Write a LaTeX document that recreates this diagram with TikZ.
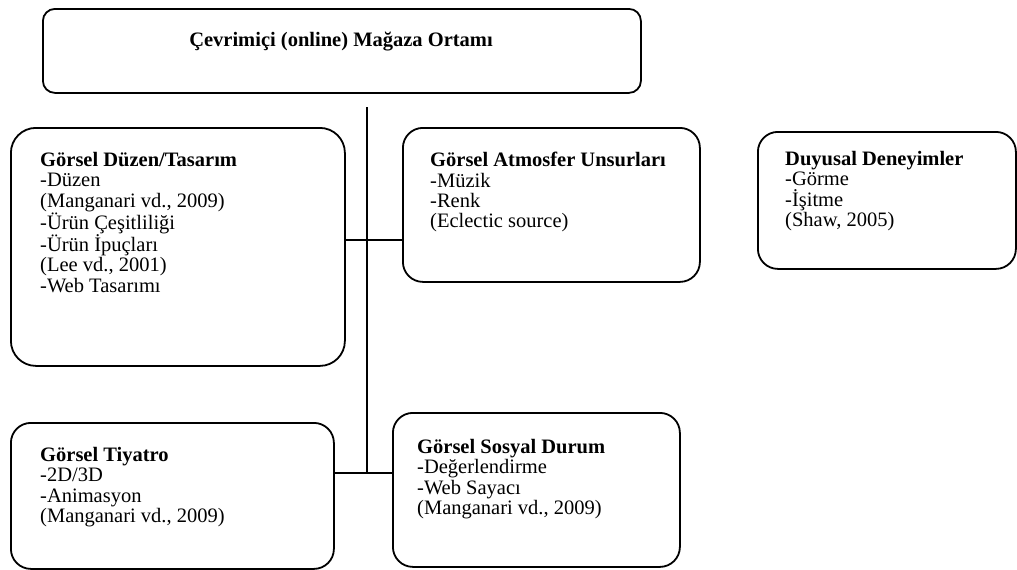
\documentclass[tikz,border=0pt]{standalone}
\usepackage{fontspec}
\setmainfont{Liberation Serif}
\begin{document}
\begin{tikzpicture}[x=1pt,y=-1pt,
  box/.style={draw, line width=1.8pt, rounded corners=#1, anchor=north west,
    inner sep=0pt, fill=white},
  box/.default=20pt,
  txt/.style={anchor=north west, inner sep=0pt, align=left,
    font=\fontsize{20.5}{20.4}\selectfont},
  link/.style={draw, line width=1.4pt}]
  \useasboundingbox (0,0) rectangle (1017,570);

  % main box
  \node[box=12pt, minimum width=598pt, minimum height=84pt] (top) at (42,8) {};
  \node[anchor=base, inner sep=0pt, font=\fontsize{20.5}{20.4}\selectfont\bfseries]
    (topT) at (341,46) {Çevrimiçi (online) Mağaza Ortamı};

  % category boxes
  \node[box=25pt, minimum width=334pt, minimum height=238pt] (A) at (10,127) {};
  \node[txt] (AT) at (40,152) {\textbf{Görsel Düzen/Tasarım}\\-Düzen\\(Manganari vd., 2009)\\-Ürün Çeşitliliği\\-Ürün İpuçları\\(Lee vd., 2001)\\-Web Tasarımı};

  \node[box, minimum width=297pt, minimum height=154pt] (B) at (402,127) {};
  \node[txt] (BT) at (430,152) {\textbf{Görsel Atmosfer Unsurları}\\-Müzik\\-Renk\\(Eclectic source)};

  \node[box, minimum width=258pt, minimum height=137pt] (C) at (757,131) {};
  \node[txt] (CT) at (785,151) {\textbf{Duyusal Deneyimler}\\-Görme\\-İşitme\\(Shaw, 2005)};

  \node[box, minimum width=323pt, minimum height=146pt] (D) at (10,422) {};
  \node[txt] (DT) at (40,447) {\textbf{Görsel Tiyatro}\\-2D/3D\\-Animasyon\\(Manganari vd., 2009)};

  \node[box, minimum width=287pt, minimum height=154pt] (E) at (392,412) {};
  \node[txt] (ET) at (417,439) {\textbf{Görsel Sosyal Durum}\\-Değerlendirme\\-Web Sayacı\\(Manganari vd., 2009)};

  % connectors
  \coordinate (vtop) at (367,107);
  \coordinate (j1) at (367,240);
  \coordinate (vbot) at (367,473);
  \draw[link] (vtop) -- (vbot);
  \draw[link] (j1 -| A.east) -- (j1 -| B.west);
  \draw[link] (vbot -| D.east) -- (vbot -| E.west);
\end{tikzpicture}
\end{document}
